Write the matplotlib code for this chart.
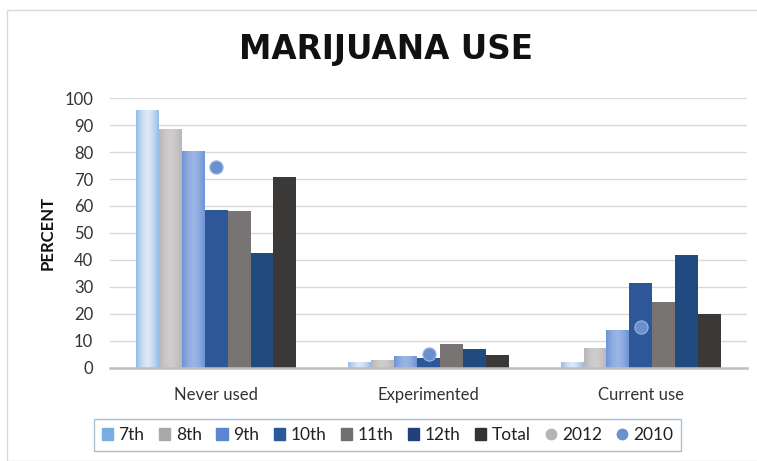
import numpy as np
import matplotlib
matplotlib.use("Agg")
import matplotlib.pyplot as plt
from matplotlib.patches import Rectangle
from matplotlib.lines import Line2D
from matplotlib.colors import to_rgb

categories = ["Never used", "Experimented", "Current use"]
series_names = ["7th", "8th", "9th", "10th", "11th", "12th", "Total"]
v7 = [95.6, 2.0, 1.9]
v8 = [88.6, 2.9, 7.2]
v9 = [80.6, 4.3, 13.8]
v10 = [58.5, 3.7, 31.4]
v11 = [58.0, 8.7, 24.5]
v12 = [42.5, 6.8, 41.8]
vtot = [70.8, 4.8, 19.9]
y2010 = [74.3, 5.2, 15.0]
yticks = [0, 10, 20, 30, 40, 50, 60, 70, 80, 90, 100]

values = [v7, v8, v9, v10, v11, v12, vtot]
bar_colors = ["#a9c9ec", "#c2c0c0", "#7e9fdb", "#2e5797", "#787474", "#214b80", "#3b3838"]
legend_colors = ["#79acdf", "#a9a9a9", "#5b86cf", "#2a5a98", "#6f6f6f", "#1f3f7d", "#333333"]
gradient = {0: ("#95bde6", "#dde9f7"), 2: ("#6f93d6", "#9bb4e4"), 1: ("#b8b6b6", "#cfcdcd")}

plt.rcParams['font.family'] = ['Lato', 'DejaVu Sans']

fig = plt.figure(figsize=(7.57, 4.61), dpi=100)
fig.patches.append(Rectangle((7/757, 0), 1, 1 - 10/461, transform=fig.transFigure,
                             fill=False, edgecolor="#d9d9d9", linewidth=1.0))
ax = fig.add_axes([110/757, 1 - 367.5/461, 637/757, (367.5 - 98.3)/461])

x = np.arange(len(categories))
n = len(series_names)
w = 0.108
for i, (name, vals) in enumerate(zip(series_names, values)):
    pos = x + (i - (n - 1) / 2) * w
    bars = ax.bar(pos, vals, width=w, color=bar_colors[i], zorder=2, linewidth=0)
    if i in gradient:
        c1, c2 = [np.array(to_rgb(c)) for c in gradient[i]]
        t = np.linspace(0, 1, 64)
        prof = 1 - np.abs(2 * t - 1) ** 1.5
        img = (c1[None, :] * (1 - prof[:, None]) + c2[None, :] * prof[:, None])[None, :, :]
        for b in bars:
            bx, by = b.get_x(), b.get_y()
            bw, bh = b.get_width(), b.get_height()
            im = ax.imshow(img, extent=[bx, bx + bw, by, by + bh], aspect='auto', zorder=2.1)
            im.set_clip_path(b)

ax.plot(x, y2010, linestyle='none', marker='o', markersize=9.5, color="#6b90d0",
        markeredgecolor="#9cb6e2", markeredgewidth=0.8, zorder=3)

ax.set_xlim(-0.5, 2.5)
ax.set_ylim(0, 100)
ax.set_yticks(yticks)
ax.set_yticklabels([str(t) for t in yticks], fontsize=12, color="#333333")
ax.set_xticks(x)
ax.set_xticklabels(categories, fontsize=12, color="#333333")
ax.tick_params(axis='both', length=0)
ax.tick_params(axis='y', pad=12)
ax.tick_params(axis='x', pad=14)
ax.grid(axis='y', color="#d9d9d9", linewidth=1.0, zorder=0)
ax.set_axisbelow(True)
for s in ["left", "right", "top"]:
    ax.spines[s].set_visible(False)
ax.spines["bottom"].set_color("#bfbfbf")
ax.spines["bottom"].set_linewidth(1.8)
ax.spines["bottom"].set_zorder(4)

fig.text(48/757, 1 - 233/461, "PERCENT", rotation=90, ha='center', va='center',
         fontsize=12, fontweight='bold', color="#111111")
fig.text(386/757, 1 - 50/461, "MARIJUANA USE", ha='center', va='center',
         fontsize=23.5, fontweight='bold', color="#111111", family=['DejaVu Sans'])

handles = [Rectangle((0, 0), 1, 1, color=c) for c in legend_colors]
handles.append(Line2D([], [], linestyle='none', marker='o', color="#b4b4b4", markersize=7.5))
handles.append(Line2D([], [], linestyle='none', marker='o', color="#6b90d0", markersize=7.5))
labels = series_names + ["2012", "2010"]
leg = fig.legend(handles, labels, loc='center', bbox_to_anchor=((92 + 683) / 2 / 757, 1 - 435 / 461),
                 ncol=9, frameon=True, fontsize=12.5, handlelength=0.65, handleheight=0.65,
                 handletextpad=0.3, columnspacing=0.85, borderpad=0.45, borderaxespad=0,
                 fancybox=False)
leg.get_frame().set_edgecolor("#8fb1c7")
leg.get_frame().set_linewidth(1.0)
for t in leg.get_texts():
    t.set_color("#222222")

fig.savefig("out.png", dpi=100)
